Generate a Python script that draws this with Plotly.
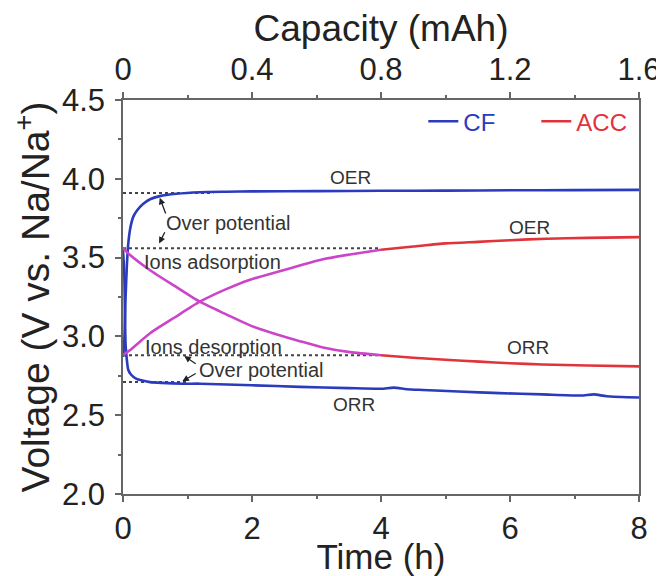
import plotly.graph_objects as go

# ---------------- data ----------------
# CF (carbon felt) charge -> OER plateau
cf_charge_time = [0, 0.02, 0.04, 0.06, 0.08, 0.11, 0.16, 0.22, 0.31, 0.42, 0.57, 0.83, 1.2, 1.6, 2.0, 3.0, 4.0, 5.0, 6.0, 7.0, 8.0]
cf_charge_volt = [2.87, 2.97, 3.25, 3.45, 3.58, 3.68, 3.76, 3.80, 3.84, 3.87, 3.89, 3.905, 3.915, 3.918, 3.92, 3.922, 3.924, 3.925, 3.927, 3.928, 3.93]

# CF discharge -> ORR plateau
cf_dis_time = [0, 0.02, 0.03, 0.04, 0.06, 0.08, 0.12, 0.21, 0.30, 0.42, 0.60, 0.93, 1.2, 2.0, 2.74, 3.5, 4.0, 4.2, 4.4, 4.65, 5.2, 5.84, 6.5, 7.1, 7.3, 7.5, 8.0]
cf_dis_volt = [3.55, 3.40, 3.15, 2.95, 2.85, 2.79, 2.76, 2.73, 2.72, 2.71, 2.705, 2.70, 2.70, 2.69, 2.68, 2.672, 2.668, 2.675, 2.665, 2.66, 2.65, 2.64, 2.632, 2.625, 2.632, 2.62, 2.612]

# ACC charge (ions adsorption then OER)
acc_charge_time = [0, 0.1, 0.42, 0.8, 1.19, 1.6, 1.97, 2.4, 2.74, 3.1, 3.52, 4.0, 4.5, 5.0, 5.5, 6.0, 6.57, 7.2, 8.0]
acc_charge_volt = [2.88, 2.91, 3.02, 3.12, 3.22, 3.30, 3.36, 3.41, 3.45, 3.49, 3.52, 3.55, 3.57, 3.59, 3.60, 3.61, 3.62, 3.625, 3.63]

# ACC discharge (ions desorption then ORR)
acc_dis_time = [0, 0.1, 0.42, 0.8, 1.19, 1.6, 1.97, 2.4, 2.74, 3.1, 3.52, 4.0, 4.5, 5.0, 5.53, 6.0, 6.5, 7.2, 8.0]
acc_dis_volt = [3.56, 3.52, 3.42, 3.32, 3.22, 3.14, 3.07, 3.01, 2.97, 2.93, 2.90, 2.88, 2.865, 2.852, 2.84, 2.83, 2.822, 2.815, 2.81]

# capacitive region ends here (magenta part of the ACC curves)
acc_split_time = 4.0

# dotted reference levels
ref_levels = [3.91, 3.56, 2.88, 2.71]
ref_end_time = [1.4, 4.0, 4.0, 1.0]

capacity_ticks = [0, 0.4, 0.8, 1.2, 1.6]
time_ticks = [0, 2, 4, 6, 8]
volt_ticks = [2.0, 2.5, 3.0, 3.5, 4.0, 4.5]

BLUE = "#2a3bbd"
RED = "#e0333a"
MAGENTA = "#cc44c8"
DOT = "#444444"
FONT = "Liberation Sans, Arial, sans-serif"

fig = go.Figure()

# dotted reference lines
for lvl, tend in zip(ref_levels, ref_end_time):
    fig.add_trace(go.Scatter(x=[0, tend], y=[lvl, lvl], mode="lines",
                             line=dict(color=DOT, width=2, dash="dot"),
                             showlegend=False, hoverinfo="skip"))

# CF curves
fig.add_trace(go.Scatter(x=cf_charge_time, y=cf_charge_volt, mode="lines",
                         line=dict(color=BLUE, width=2.6, shape="spline", smoothing=0.6),
                         name="<span style='color:%s'>CF</span>" % BLUE))
fig.add_trace(go.Scatter(x=cf_dis_time, y=cf_dis_volt, mode="lines",
                         line=dict(color=BLUE, width=2.6, shape="spline", smoothing=0.6),
                         showlegend=False))

# ACC curves, split into capacitive (magenta) and plateau (red)
first = True
for ts, vs in [(acc_charge_time, acc_charge_volt), (acc_dis_time, acc_dis_volt)]:
    t_hi = [t for t in ts if t >= acc_split_time]
    v_hi = [v for t, v in zip(ts, vs) if t >= acc_split_time]
    fig.add_trace(go.Scatter(x=t_hi, y=v_hi, mode="lines",
                             line=dict(color=RED, width=2.6, shape="spline", smoothing=0.6),
                             name="<span style='color:%s'>ACC</span>" % RED,
                             showlegend=first))
    first = False
    t_lo = [t for t in ts if t <= acc_split_time]
    v_lo = [v for t, v in zip(ts, vs) if t <= acc_split_time]
    fig.add_trace(go.Scatter(x=t_lo, y=v_lo, mode="lines",
                             line=dict(color=MAGENTA, width=2.6, shape="spline", smoothing=0.6),
                             showlegend=False))

# dummy trace for the top capacity axis
fig.add_trace(go.Scatter(x=capacity_ticks, y=[None] * len(capacity_ticks), xaxis="x2",
                         mode="lines", showlegend=False, hoverinfo="skip"))

# text labels
labels = [
    ("OER", 3.53, 4.01, 19),
    ("OER", 6.31, 3.69, 19),
    ("ORR", 6.28, 2.93, 19),
    ("ORR", 3.58, 2.565, 19),
    ("Ions adsorption", 1.39, 3.47, 20),
    ("Ions desorption", 1.40, 2.935, 20),
    ("Over potential", 1.64, 3.72, 20),
    ("Over potential", 2.14, 2.787, 20),
]
for txt, x, y, s in labels:
    fig.add_annotation(x=x, y=y, text=txt, showarrow=False,
                       font=dict(family=FONT, size=s, color="#333333"))

# over-potential arrows: (head_t, head_v, tail_t, tail_v)
arrows = [
    (0.57, 3.88, 0.67, 3.77),
    (0.56, 3.59, 0.66, 3.67),
    (0.95, 2.875, 1.15, 2.82),
    (0.92, 2.715, 1.15, 2.77),
]
for ht, hv, tt, tv in arrows:
    fig.add_annotation(x=ht, y=hv, ax=tt, ay=tv, axref="x", ayref="y", text="",
                       showarrow=True, arrowhead=2, arrowsize=1, arrowwidth=1.3,
                       arrowcolor="#222222")

axis_common = dict(showline=True, linecolor="#666666", linewidth=1.5,
                   ticks="outside", ticklen=6, tickwidth=1.5, tickcolor="#666666",
                   showgrid=False, zeroline=False, automargin=False,
                   tickfont=dict(family=FONT, size=31, color="#222222"))

# the page body adds an 8px offset, so the figure is 8px smaller than the window
fig.update_layout(
    width=656, height=568,
    margin=dict(l=115, r=25, t=92, b=82, autoexpand=False),
    paper_bgcolor="white", plot_bgcolor="white",
    font=dict(family=FONT),
    xaxis=dict(range=[0, 8], tickvals=time_ticks,
               minor=dict(dtick=1, ticks="outside", ticklen=3, tickcolor="#666666"),
               title=dict(text="Time (h)", font=dict(family=FONT, size=35, color="#222222"), standoff=3),
               **axis_common),
    xaxis2=dict(range=[0, 1.6], tickvals=capacity_ticks, overlaying="x", side="top",
                minor=dict(dtick=0.2, ticks="outside", ticklen=3, tickcolor="#666666"),
                title=dict(text="Capacity (mAh)", font=dict(family=FONT, size=37, color="#222222"), standoff=1),
                **axis_common),
    yaxis=dict(range=[2.0, 4.5], tickvals=volt_ticks, tickformat=".1f", mirror=True,
               ticklabelstandoff=4,
               minor=dict(dtick=0.25, ticks="outside", ticklen=3, tickcolor="#666666"),
               title=dict(text="Voltage (V vs. Na/Na<sup>+</sup>)", font=dict(family=FONT, size=39, color="#222222"), standoff=20),
               **axis_common),
    legend=dict(orientation="h", x=0.582, xanchor="left", y=1.002, yanchor="top",
                font=dict(family=FONT, size=24), bgcolor="rgba(0,0,0,0)",
                entrywidth=68, entrywidthmode="pixels", tracegroupgap=0),
)

fig.write_html("out.html")
